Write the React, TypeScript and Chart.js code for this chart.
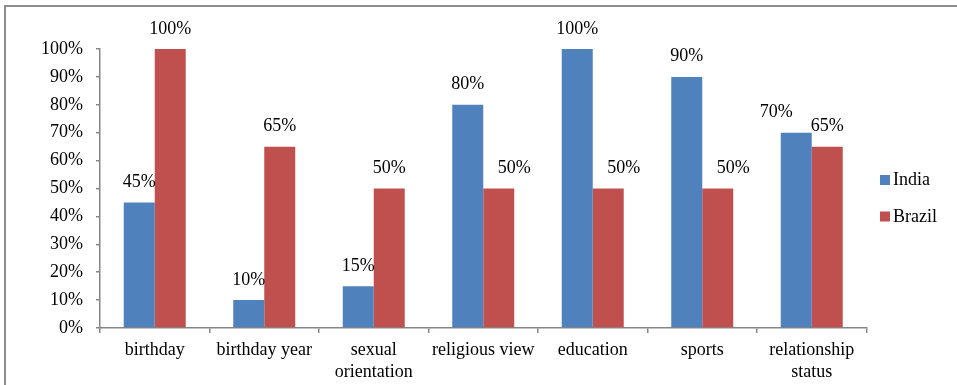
import React, { useEffect, useRef } from "react";
import { Chart, registerables } from "chart.js";

Chart.register(...registerables);

const categories: (string | string[])[] = [
  "birthday",
  "birthday year",
  ["sexual", "orientation"],
  "religious view",
  "education",
  "sports",
  ["relationship", "status"],
];
const seriesNames = ["India", "Brazil"];
const indiaValues = [45, 10, 15, 80, 100, 90, 70];
const brazilValues = [100, 65, 50, 50, 50, 50, 65];
const seriesColors = ["#4F81BD", "#C0504D"];
const yMin = 0;
const yMax = 100;
const yStep = 10;

const FONT_FAMILY = "'Liberation Serif', 'Times New Roman', serif";
const FONT_SIZE = 18;
const AXIS_COLOR = "#868686";

const frameAndLabels = {
  id: "frameAndLabels",
  afterDatasetsDraw(chart: any) {
    const ctx = chart.ctx as CanvasRenderingContext2D;
    ctx.save();
    ctx.font = `${FONT_SIZE}px ${FONT_FAMILY}`;
    ctx.fillStyle = "#000";
    ctx.textAlign = "center";
    ctx.textBaseline = "alphabetic";
    const metas = chart.data.datasets.map((_: any, i: number) => chart.getDatasetMeta(i));
    const n = chart.data.labels.length;
    for (let j = 0; j < n; j++) {
      const items: { x: number; y: number; text: string; w: number }[] = [];
      metas.forEach((meta: any, di: number) => {
        const bar = meta.data[j];
        const v = chart.data.datasets[di].data[j];
        const text = `${v}%`;
        const w = ctx.measureText(text).width;
        let x = bar.x;
        const y = bar.y - 15.5;
        if (di > 0) {
          // avoid overlapping the taller neighbouring bar on the left
          const prev = metas[di - 1].data[j];
          const prevRight = prev.x + prev.width / 2;
          if (prev.y < y && x - w / 2 < prevRight) {
            x += bar.width / 2;
          }
        }
        items.push({ x, y, text, w });
      });
      // avoid label-on-label collisions
      for (let k = 0; k < items.length - 1; k++) {
        const a = items[k];
        const b = items[k + 1];
        const overlapX = a.x + a.w / 2 > b.x - b.w / 2;
        const overlapY = Math.abs(a.y - b.y) < FONT_SIZE;
        if (overlapX && overlapY) {
          a.x -= 20;
        }
      }
      items.forEach((it) => ctx.fillText(it.text, it.x, it.y));
    }
    ctx.restore();
  },
  afterDraw(chart: any) {
    const ctx = chart.ctx as CanvasRenderingContext2D;
    const area = chart.chartArea;
    ctx.save();
    // outer frame (top and left visible)
    ctx.strokeStyle = "#8c8c8c";
    ctx.lineWidth = 2;
    ctx.beginPath();
    ctx.moveTo(5, chart.height + 5);
    ctx.lineTo(5, 6);
    ctx.lineTo(chart.width + 5, 6);
    ctx.stroke();
    // legend
    ctx.font = `${FONT_SIZE}px ${FONT_FAMILY}`;
    ctx.textAlign = "left";
    ctx.textBaseline = "alphabetic";
    const lx = area.right + 13.5;
    const firstBaseline = 185;
    const spacing = 36.5;
    seriesNames.forEach((name, i) => {
      const base = firstBaseline + i * spacing;
      ctx.fillStyle = seriesColors[i];
      ctx.fillRect(lx, base - 10, 10, 10);
      ctx.fillStyle = "#000";
      ctx.fillText(name, lx + 13, base);
    });
    ctx.restore();
  },
};

export default function App() {
  const canvasRef = useRef<HTMLCanvasElement | null>(null);

  useEffect(() => {
    if (!canvasRef.current) return;
    const chart = new Chart(canvasRef.current, {
      type: "bar",
      data: {
        labels: categories,
        datasets: [
          {
            label: seriesNames[0],
            data: indiaValues,
            backgroundColor: seriesColors[0],
            borderWidth: 0,
            categoryPercentage: 0.566,
            barPercentage: 1,
          },
          {
            label: seriesNames[1],
            data: brazilValues,
            backgroundColor: seriesColors[1],
            borderWidth: 0,
            categoryPercentage: 0.566,
            barPercentage: 1,
          },
        ],
      },
      options: {
        responsive: false,
        animation: false,
        layout: { padding: { left: 0, right: 90.5, top: 49, bottom: 0 } },
        plugins: {
          legend: { display: false },
          tooltip: { enabled: false },
        },
        scales: {
          x: {
            grid: {
              drawOnChartArea: false,
              drawTicks: true,
              tickLength: 5,
              color: AXIS_COLOR,
              lineWidth: 1.5,
              offset: true,
            },
            border: { color: AXIS_COLOR, width: 1.5 },
            ticks: {
              color: "#000",
              padding: 6,
              maxRotation: 0,
              autoSkip: false,
              font: { family: FONT_FAMILY, size: FONT_SIZE, lineHeight: 1.22 },
            },
            afterFit(scale: any) {
              scale.height = 57;
            },
          },
          y: {
            min: yMin,
            max: yMax,
            grid: {
              drawOnChartArea: false,
              drawTicks: true,
              tickLength: 4,
              color: AXIS_COLOR,
              lineWidth: 1.5,
            },
            border: { color: AXIS_COLOR, width: 1.5 },
            ticks: {
              stepSize: yStep,
              color: "#000",
              padding: 13,
              font: { family: FONT_FAMILY, size: FONT_SIZE },
              callback: (v: any) => `${v}%`,
            },
            afterFit(scale: any) {
              scale.width = 100;
            },
          },
        },
      },
      plugins: [frameAndLabels],
    });
    return () => chart.destroy();
  }, []);

  return (
    <div style={{ position: "absolute", left: 0, top: 0, width: 957, height: 385, background: "#fff" }}>
      <canvas ref={canvasRef} width={957} height={385} style={{ display: "block" }} />
    </div>
  );
}
